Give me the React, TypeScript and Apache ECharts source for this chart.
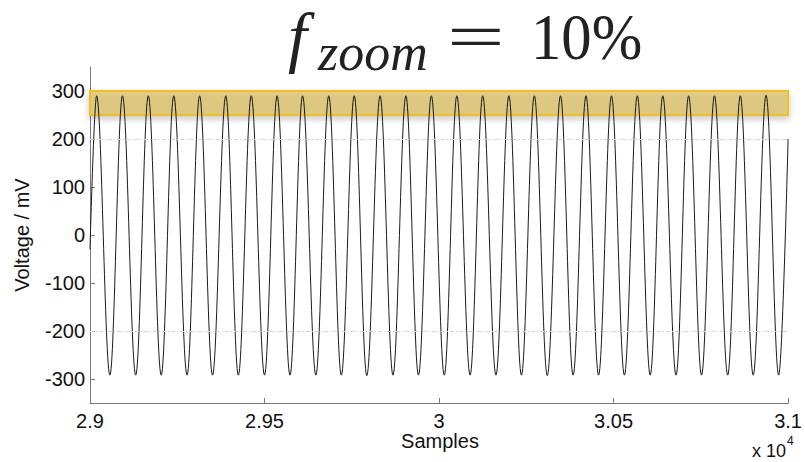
import React, { useEffect, useRef } from "react";
import * as echarts from "echarts";

// ---- data ----
const xTickValues = [29000, 29500, 30000, 30500, 31000];
const yTickValues = [-300, -200, -100, 0, 100, 200, 300];
const refLineValues = [200, -200];
const highlightBand = [250, 300];

const startPoint = [29000, -30];
const endPoint = [31000, 200];

const peakSamples = [
  29019, 29093, 29167, 29240, 29314, 29389, 29462, 29536, 29609, 29684, 29757,
  29831, 29905, 29978, 30051, 30125, 30200, 30273, 30348, 30421, 30494, 30568,
  30641, 30715, 30789, 30863, 30937,
];
const peakValues = [
  290, 290, 290, 290, 290, 290, 290, 290, 290, 290, 290, 290, 290, 290, 290,
  290, 290, 290, 290, 290, 290, 290, 290, 290, 290, 290, 291,
];
const troughSamples = [
  29057, 29131, 29204, 29278, 29351, 29425, 29500, 29573, 29647, 29720, 29793,
  29868, 29941, 30015, 30089, 30163, 30236, 30310, 30384, 30457, 30531, 30605,
  30679, 30752, 30827, 30900, 30973,
];
const troughValues = [
  -292, -292, -292, -292, -292, -292, -292, -292, -292, -292, -293, -292, -292,
  -292, -292, -292, -292, -293, -292, -292, -292, -292, -292, -292, -292, -292,
  -292,
];

export default function App() {
  const ref = useRef<HTMLDivElement>(null);

  useEffect(() => {
    if (!ref.current) return;
    const chart = echarts.init(ref.current, undefined, { renderer: "svg" });

    const pts: number[][] = [startPoint];
    peakSamples.forEach((s, i) => pts.push([s, peakValues[i]]));
    troughSamples.forEach((s, i) => pts.push([s, troughValues[i]]));
    pts.push(endPoint);
    pts.sort((a, b) => a[0] - b[0]);

    const sans = "'Liberation Sans', Arial, sans-serif";
    const serif = "'Liberation Serif', 'Times New Roman', 'DejaVu Serif', serif";

    const titleStyle = (text: string, size: number, italic: boolean) => ({
      text,
      fontFamily: serif,
      fontSize: size,
      fontStyle: italic ? "italic" : "normal",
      fill: "#222",
      align: "left",
      verticalAlign: "middle",
    });

    chart.setOption({
      animation: false,
      backgroundColor: "#ffffff",
      grid: { left: 90, right: 15, top: 67, bottom: 59, containLabel: false },
      xAxis: {
        type: "value",
        min: 29000,
        max: 31000,
        interval: 500,
        axisLine: { show: true, onZero: false, lineStyle: { color: "#7a7a7a", width: 1 } },
        axisTick: {
          show: true,
          inside: true,
          length: 5,
          customValues: xTickValues,
          lineStyle: { color: "#7a7a7a" },
        },
        axisLabel: {
          customValues: xTickValues,
          formatter: (v: number) => String(v / 10000),
          fontFamily: sans,
          fontSize: 20,
          color: "#111",
          margin: 8,
        },
        splitLine: { show: false },
      },
      yAxis: {
        type: "value",
        min: -350,
        max: 350,
        axisLine: { show: true, onZero: false, lineStyle: { color: "#7a7a7a", width: 1 } },
        axisTick: {
          show: true,
          inside: true,
          length: 5,
          customValues: yTickValues,
          lineStyle: { color: "#7a7a7a" },
        },
        axisLabel: {
          customValues: yTickValues,
          fontFamily: sans,
          fontSize: 20,
          color: "#111",
          margin: 5,
        },
        splitLine: { show: false },
      },
      series: [
        {
          type: "line",
          data: pts,
          showSymbol: false,
          smooth: 0.36,
          smoothMonotone: "x",
          lineStyle: { color: "#1a1a1a", width: 1 },
          clip: true,
          markLine: {
            silent: true,
            symbol: ["none", "none"],
            label: { show: false },
            lineStyle: { color: "#d2d2d2", type: [4, 2, 1, 2], width: 1 },
            data: refLineValues.map((v) => ({ yAxis: v })),
          },
          markArea: {
            silent: true,
            itemStyle: {
              color: "rgba(214,176,60,0.55)",
              borderColor: "#f2c01e",
              borderWidth: 2,
              shadowBlur: 6,
              shadowOffsetY: 3,
              shadowColor: "rgba(0,0,0,0.3)",
            },
            data: [
              [
                { xAxis: xTickValues[0], yAxis: highlightBand[1] },
                { xAxis: xTickValues[xTickValues.length - 1], yAxis: highlightBand[0] },
              ],
            ],
          },
        },
      ],
      graphic: [
        { type: "text", x: 288, y: 37, style: titleStyle("f", 68, true) },
        { type: "text", x: 318, y: 52, style: titleStyle("zoom", 52, true) },
        { type: "text", x: 447, y: 37, scaleX: 1.55, style: titleStyle("=", 66, false) },
        { type: "text", x: 531, y: 37, scaleX: 0.92, style: titleStyle("10%", 66, false) },
        {
          type: "text",
          x: 22,
          y: 235,
          rotation: Math.PI / 2,
          style: {
            text: "Voltage / mV",
            fontFamily: sans,
            fontSize: 20,
            fill: "#111",
            align: "center",
            verticalAlign: "middle",
          },
        },
        {
          type: "text",
          x: 440,
          y: 441,
          style: {
            text: "Samples",
            fontFamily: sans,
            fontSize: 20,
            fill: "#111",
            align: "center",
            verticalAlign: "middle",
          },
        },
        {
          type: "text",
          x: 786,
          y: 451,
          style: {
            text: "x 10",
            fontFamily: sans,
            fontSize: 18,
            fill: "#111",
            align: "right",
            verticalAlign: "middle",
          },
        },
        {
          type: "text",
          x: 787,
          y: 441,
          style: {
            text: "4",
            fontFamily: sans,
            fontSize: 12,
            fill: "#111",
            align: "left",
            verticalAlign: "middle",
          },
        },
      ],
    });

    return () => chart.dispose();
  }, []);

  return <div ref={ref} style={{ width: 805, height: 462, position: "absolute", left: 0, top: 0 }} />;
}
